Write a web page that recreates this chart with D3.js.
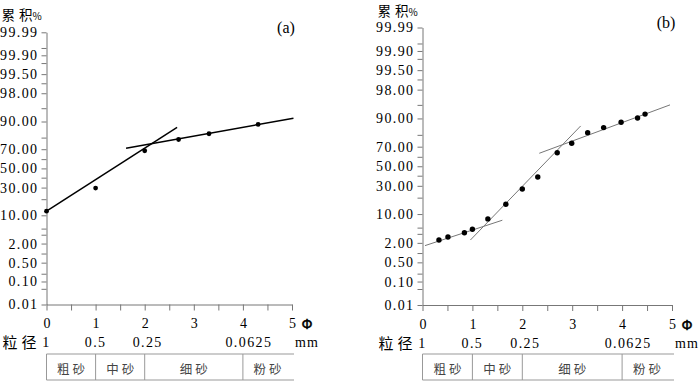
<!DOCTYPE html>
<html><head><meta charset="utf-8">
<script src="https://cdn.jsdelivr.net/npm/d3@7"></script>
<style>
body{margin:0;background:#fff;}
svg{display:block;}
</style></head>
<body>
<svg id="c" width="700" height="381"></svg>
<script>
// ---------- data ----------
const yMajorTicks = [99.99, 99.9, 99.5, 98, 90, 70, 50, 30, 10, 2, 0.5, 0.1, 0.01];
const yMajorLabels = ["99.99","99.90","99.50","98.00","90.00","70.00","50.00","30.00","10.00","2.00","0.50","0.10","0.01"];
const yMinorTicks = [99.95, 99.8, 99, 95, 80, 60, 40, 20, 5, 3.5, 1, 0.2, 0.05];
const phiTicks = [0, 0.5, 1, 1.5, 2, 2.5, 3, 3.5, 4, 4.5, 5];
const phiLabels = ["0", "1", "2", "3", "4", "5"];
const mmPhi = [0, 1, 2, 4];
const mmLabels = ["1", "0.5", "0.25", "0.0625"];
const classBounds = [0, 1, 2, 4, 5];
const classNames = ["粗砂", "中砂", "细砂", "粉砂"];

// chart (a)
const phiA = [0, 1, 2, 2.69, 3.31, 4.31];
const cumA = [12.1, 29.5, 68.5, 78.5, 82.8, 88.5];
const fitA1 = [[0, 12.1], [2.66, 86.9]];
const fitA2 = [[1.62, 71], [5.03, 91.5]];

// chart (b)
const phiB = [0.33, 0.51, 0.84, 1.0, 1.31, 1.67, 2.0, 2.31, 2.7, 2.99, 3.31, 3.63, 3.98, 4.31, 4.46];
const cumB = [2.4, 2.9, 3.75, 4.55, 7.9, 15.4, 27.1, 38.7, 64.2, 73.1, 81.6, 85, 88.1, 90.2, 91.9];
const fitB1 = [[0.05, 1.67], [1.6, 7.4]];
const fitB2 = [[0.96, 2.4], [3.17, 86]];
const fitB3 = [[2.34, 63.6], [4.96, 95]];

// ---------- probit (inverse normal CDF, Acklam) ----------
function probit(p) {
  const a = [-3.969683028665376e+01, 2.209460984245205e+02, -2.759285104469687e+02, 1.383577518672690e+02, -3.066479806614716e+01, 2.506628277459239e+00];
  const b = [-5.447609879822406e+01, 1.615858368580409e+02, -1.556989798598866e+02, 6.680131188771972e+01, -1.328068155288572e+01];
  const c = [-7.784894002430293e-03, -3.223964580411365e-01, -2.400758277161838e+00, -2.549732539343734e+00, 4.374664141464968e+00, 2.938163982698783e+00];
  const d = [7.784695709041462e-03, 3.224671290700398e-01, 2.445134137142996e+00, 3.754408661907416e+00];
  const pl = 0.02425, ph = 1 - pl;
  let q, r;
  if (p < pl) {
    q = Math.sqrt(-2 * Math.log(p));
    return (((((c[0]*q+c[1])*q+c[2])*q+c[3])*q+c[4])*q+c[5]) / ((((d[0]*q+d[1])*q+d[2])*q+d[3])*q+1);
  } else if (p <= ph) {
    q = p - 0.5; r = q*q;
    return (((((a[0]*r+a[1])*r+a[2])*r+a[3])*r+a[4])*r+a[5])*q / (((((b[0]*r+b[1])*r+b[2])*r+b[3])*r+b[4])*r+1);
  } else {
    q = Math.sqrt(-2 * Math.log(1 - p));
    return -(((((c[0]*q+c[1])*q+c[2])*q+c[3])*q+c[4])*q+c[5]) / ((((d[0]*q+d[1])*q+d[2])*q+d[3])*q+1);
  }
}
const z = pct => probit(pct / 100);

const svg = d3.select("#c");
const serif = "'Liberation Serif','Times New Roman',serif";
const axisColor = "#777";

function drawChart(cfg) {
  const x = d3.scaleLinear().domain([0, 5]).range([cfg.x0, cfg.x1]);
  const y = d3.scaleLinear().domain([z(0.01), z(99.99)]).range([cfg.yBottom, cfg.yTop]);
  const g = svg.append("g");

  // minor y ticks
  const yMinor = g.append("g").attr("transform", `translate(${cfg.x0},0)`)
    .call(d3.axisLeft(y).tickValues(yMinorTicks.map(z)).tickSize(5).tickSizeOuter(0).tickFormat(""));
  yMinor.select(".domain").remove();
  yMinor.selectAll("line").attr("stroke", axisColor);

  // major y axis
  const yAx = g.append("g").attr("transform", `translate(${cfg.x0},0)`)
    .call(d3.axisLeft(y).tickValues(yMajorTicks.map(z)).tickSize(5).tickSizeOuter(0).tickPadding(3)
      .tickFormat((d, i) => yMajorLabels[i]));
  yAx.select(".domain").attr("stroke", axisColor);
  yAx.selectAll("line").attr("stroke", axisColor);
  yAx.selectAll("text").attr("font-family", serif).attr("font-size", 14).attr("fill", "#000")
    .attr("letter-spacing", "1.4px");

  // x axis
  const xAx = g.append("g").attr("transform", `translate(0,${cfg.yBottom})`)
    .call(d3.axisBottom(x).tickValues(phiTicks).tickSize(6).tickSizeOuter(0)
      .tickFormat(d => Number.isInteger(d) ? phiLabels[d] : ""));
  xAx.select(".domain").attr("stroke", axisColor);
  xAx.selectAll("line").attr("stroke", axisColor);
  xAx.selectAll("text").attr("font-family", serif).attr("font-size", 14).attr("fill", "#000")
    .attr("y", 14);

  // Φ symbol
  g.append("text").attr("x", x(5) + 15).attr("y", cfg.yBottom + 24.5)
    .attr("text-anchor", "middle").attr("font-family", "'DejaVu Sans',sans-serif")
    .attr("font-size", 14).attr("stroke", "#000").attr("stroke-width", 0.4).text("Φ");

  // grain size row
  const mmY = cfg.yBottom + 42.5;
  g.append("text").attr("x", x(0) - 44).attr("y", mmY + 1).attr("font-family", "'Noto Sans CJK SC',sans-serif")
    .attr("font-size", 15).attr("letter-spacing", "4px").text("粒径");
  g.selectAll(".mm").data(mmLabels).join("text")
    .attr("x", (d, i) => x(mmPhi[i]) + (i === 3 ? 6 : (i === 2 ? 3 : 0)))
    .attr("y", mmY).attr("text-anchor", "middle")
    .attr("font-family", serif).attr("font-size", 14).attr("letter-spacing", "1.4px").text(d => d);
  g.append("text").attr("x", x(5) + 15).attr("y", mmY).attr("text-anchor", "middle")
    .attr("font-family", serif).attr("font-size", 14).attr("letter-spacing", "1px").text("mm");

  // classification table
  const tTop = 354, tBot = 380;
  g.append("line").attr("x1", x(0)).attr("x2", x(5) + 2).attr("y1", tTop).attr("y2", tTop)
    .attr("stroke", "#999");
  g.append("line").attr("x1", x(0)).attr("x2", x(5) + 2).attr("y1", tBot).attr("y2", tBot)
    .attr("stroke", "#999");
  g.selectAll(".vb").data(classBounds.slice(0, 4)).join("line")
    .attr("x1", d => x(d)).attr("x2", d => x(d)).attr("y1", tTop).attr("y2", tBot)
    .attr("stroke", "#999");
  g.selectAll(".cn").data(classNames).join("text")
    .attr("x", (d, i) => x((classBounds[i] + classBounds[i + 1]) / 2) + 1.5)
    .attr("y", 373.5).attr("text-anchor", "middle")
    .attr("font-family", "'Noto Sans CJK SC',sans-serif").attr("font-size", 12.5)
    .attr("letter-spacing", "3px").attr("fill", "#444").text(d => d);

  // y title
  const tt = g.append("text").attr("x", x(0) - 45).attr("y", cfg.yTop - 12)
    .attr("font-family", "'Noto Sans CJK SC',sans-serif").attr("font-size", 13.5);
  tt.append("tspan").text("累");
  tt.append("tspan").attr("dx", 4).text("积");
  tt.append("tspan").attr("font-size", 10).text("%");

  // panel letter
  g.append("text").attr("x", x(5) - 6).attr("y", cfg.yTop + 0.5).attr("text-anchor", "middle")
    .attr("font-family", serif).attr("font-size", 16).text(cfg.letter);

  // fitted lines
  const line = d3.line().x(d => x(d[0])).y(d => y(z(d[1])));
  cfg.fits.forEach(f => {
    g.append("path").attr("d", line(f)).attr("fill", "none")
      .attr("stroke", cfg.lineColor).attr("stroke-width", cfg.lineWidth);
  });

  // points
  g.selectAll(".pt").data(cfg.phi).join("circle")
    .attr("cx", d => x(d)).attr("cy", (d, i) => y(z(cfg.cum[i])))
    .attr("r", cfg.r).attr("fill", "#000");
}

drawChart({ x0: 46.5, x1: 292, yTop: 32.3, yBottom: 304.5, letter: "(a)",
  phi: phiA, cum: cumA, fits: [fitA1, fitA2], lineColor: "#000", lineWidth: 1.5, r: 2.4 });
drawChart({ x0: 422.5, x1: 672, yTop: 27.5, yBottom: 305, letter: "(b)",
  phi: phiB, cum: cumB, fits: [fitB1, fitB2, fitB3], lineColor: "#777", lineWidth: 1, r: 2.7 });
</script>
</body></html>
